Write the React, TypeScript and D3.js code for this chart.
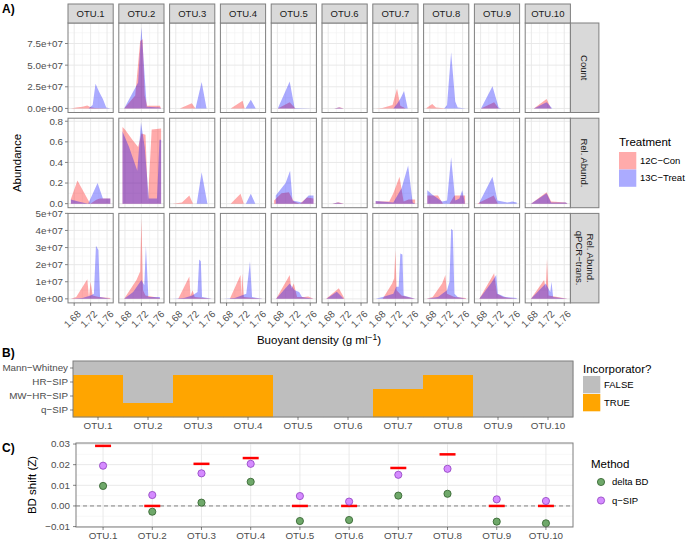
import React from "react";
import * as d3 from "d3";

// ---------------- DATA ----------------
const otus = ["OTU.1", "OTU.2", "OTU.3", "OTU.4", "OTU.5", "OTU.6", "OTU.7", "OTU.8", "OTU.9", "OTU.10"];
const treatments = ["12C\u2212Con", "13C\u2212Treat"];
const rowLabels = [["Count"], ["Rel. Abund."], ["Rel. Abund.", "qPCR\u2212trans."]];

type P = [number, number][];

const countCon: P[] = [
  [[1.672, 0], [1.685, 0.1e7], [1.7, 0.2e7], [1.712, 0.35e7], [1.72, 0.15e7], [1.73, 0.05e7], [1.768, 0]],
  [[1.678, 0], [1.705, 1.5e7], [1.717, 7.8e7], [1.723, 8.0e7], [1.728, 1.5e7], [1.734, 0.3e7], [1.765, 0.3e7], [1.768, 0]],
  [[1.672, 0], [1.69, 0], [1.719, 0.6e7], [1.728, 0], [1.768, 0]],
  [[1.672, 0], [1.69, 0], [1.719, 0.9e7], [1.724, 0], [1.768, 0]],
  [[1.672, 0], [1.681, 0], [1.71, 0.7e7], [1.724, 0], [1.768, 0]],
  [[1.672, 0], [1.695, 0], [1.708, 0.15e7], [1.718, 0], [1.768, 0]],
  [[1.672, 0], [1.688, 0.05e7], [1.713, 0.4e7], [1.724, 2.3e7], [1.732, 0.3e7], [1.745, 0], [1.768, 0]],
  [[1.672, 0.05e7], [1.686, 0.5e7], [1.695, 0.1e7], [1.72, 0], [1.768, 0]],
  [[1.672, 0], [1.681, 0], [1.713, 0.7e7], [1.724, 0], [1.768, 0]],
  [[1.672, 0], [1.686, 0], [1.717, 1.1e7], [1.728, 0], [1.768, 0]],
];
const countTreat: P[] = [
  [[1.672, 0], [1.715, 0], [1.725, 0.4e7], [1.732, 2.85e7], [1.741, 1.9e7], [1.75, 1.1e7], [1.758, 0.1e7], [1.768, 0]],
  [[1.678, 0], [1.712, 3.0e7], [1.72, 9.4e7], [1.733, 0.2e7], [1.765, 0.1e7], [1.768, 0]],
  [[1.672, 0], [1.728, 0], [1.743, 3.05e7], [1.755, 0], [1.768, 0]],
  [[1.672, 0], [1.726, 0], [1.739, 1.0e7], [1.751, 0], [1.768, 0]],
  [[1.672, 0], [1.681, 0], [1.71, 3.1e7], [1.722, 0.05e7], [1.768, 0]],
  [[1.672, 0], [1.695, 0], [1.706, 0.1e7], [1.718, 0], [1.768, 0]],
  [[1.672, 0], [1.715, 0], [1.725, 0.6e7], [1.733, 1.2e7], [1.741, 2.0e7], [1.75, 0], [1.768, 0]],
  [[1.672, 0], [1.715, 0], [1.722, 0.4e7], [1.732, 6.5e7], [1.742, 0.8e7], [1.748, 0.1e7], [1.768, 0]],
  [[1.672, 0], [1.681, 0], [1.709, 2.55e7], [1.724, 0.1e7], [1.73, 0], [1.768, 0]],
  [[1.672, 0], [1.686, 0], [1.717, 0.7e7], [1.731, 0], [1.768, 0]],
];
const relCon: P[] = [
  [[1.672, 0.046], [1.688, 0.224], [1.719, 0.0], [1.735, 0.04], [1.743, 0.05], [1.768, 0.05]],
  [[1.674, 0.745], [1.68, 0.72], [1.698, 0.62], [1.712, 0.55], [1.72, 0.68], [1.73, 0.67], [1.736, 0.03], [1.745, 0.72], [1.768, 0.73]],
  [[1.672, 0], [1.695, 0.01], [1.713, 0.08], [1.722, 0], [1.768, 0]],
  [[1.672, 0], [1.69, 0], [1.714, 0.095], [1.722, 0], [1.768, 0]],
  [[1.672, 0.03], [1.69, 0.1], [1.708, 0.11], [1.72, 0.02], [1.735, 0], [1.752, 0.06], [1.768, 0.05]],
  [[1.672, 0], [1.69, 0], [1.705, 0.013], [1.718, 0], [1.768, 0]],
  [[1.672, 0.022], [1.705, 0.02], [1.715, 0.1], [1.73, 0.26], [1.74, 0.02], [1.752, 0.04], [1.768, 0.04]],
  [[1.674, 0.08], [1.7, 0.08], [1.712, 0.0], [1.728, 0], [1.74, 0.08], [1.766, 0.08]],
  [[1.672, 0], [1.677, 0.01], [1.712, 0.08], [1.722, 0.0], [1.768, 0]],
  [[1.672, 0], [1.679, 0], [1.717, 0.11], [1.728, 0.02], [1.764, 0.01], [1.768, 0]],
];
const relTreat: P[] = [
  [[1.672, 0.04], [1.69, 0.02], [1.714, 0.0], [1.737, 0.2], [1.75, 0.05], [1.768, 0.05]],
  [[1.674, 0.7], [1.69, 0.55], [1.71, 0.32], [1.719, 0.79], [1.728, 0.55], [1.738, 0.05], [1.758, 0.05], [1.764, 0.62], [1.768, 0.62]],
  [[1.672, 0], [1.731, 0], [1.743, 0.305], [1.757, 0], [1.768, 0]],
  [[1.672, 0], [1.727, 0], [1.739, 0.095], [1.75, 0], [1.768, 0]],
  [[1.676, 0.08], [1.7, 0.2], [1.711, 0.32], [1.717, 0.03], [1.74, 0.01], [1.756, 0.08], [1.768, 0.08]],
  [[1.672, 0], [1.69, 0], [1.703, 0.012], [1.718, 0], [1.768, 0]],
  [[1.672, 0.025], [1.715, 0.01], [1.735, 0.15], [1.751, 0.37], [1.762, 0.01], [1.768, 0]],
  [[1.674, 0.13], [1.685, 0.09], [1.71, 0.02], [1.722, 0.03], [1.732, 0.45], [1.742, 0.03], [1.752, 0.05], [1.759, 0.13], [1.765, 0.02]],
  [[1.677, 0.01], [1.709, 0.26], [1.721, 0.03], [1.745, 0.01], [1.757, 0.02], [1.768, 0.01]],
  [[1.672, 0], [1.679, 0], [1.717, 0.1], [1.728, 0.01], [1.764, 0.01], [1.768, 0]],
];
const qpcrCon: P[] = [
  [[1.672, 0], [1.685, 0.1e7], [1.712, 1.15e7], [1.716, 0.1e7], [1.72, 1.0e7], [1.725, 0.2e7], [1.74, 0.1e7], [1.768, 0.05e7]],
  [[1.678, 0], [1.708, 1.1e7], [1.717, 1.6e7], [1.72, 4.75e7], [1.724, 0.5e7], [1.73, 0.2e7], [1.765, 0.05e7]],
  [[1.672, 0], [1.686, 0], [1.713, 1.3e7], [1.716, 0.2e7], [1.721, 0.5e7], [1.726, 0.1e7], [1.768, 0]],
  [[1.672, 0], [1.688, 0], [1.714, 1.4e7], [1.716, 0.2e7], [1.718, 1.5e7], [1.722, 0.1e7], [1.768, 0]],
  [[1.672, 0], [1.677, 0], [1.71, 1.4e7], [1.714, 0.6e7], [1.72, 0.9e7], [1.728, 0.1e7], [1.745, 0.1e7], [1.755, 0.13e7], [1.768, 0]],
  [[1.672, 0], [1.675, 0], [1.706, 0.62e7], [1.72, 0], [1.768, 0]],
  [[1.672, 0], [1.689, 0], [1.712, 0.9e7], [1.717, 1.2e7], [1.72, 2.85e7], [1.723, 0.5e7], [1.735, 0.2e7], [1.768, 0]],
  [[1.672, 0], [1.687, 0.1e7], [1.71, 0.9e7], [1.718, 1.4e7], [1.722, 0.3e7], [1.74, 0.1e7], [1.768, 0.05e7]],
  [[1.672, 0], [1.677, 0], [1.713, 1.5e7], [1.72, 0.3e7], [1.735, 0.1e7], [1.768, 0]],
  [[1.672, 0], [1.679, 0], [1.711, 1.1e7], [1.715, 0.6e7], [1.718, 2.35e7], [1.722, 0.2e7], [1.768, 0]],
];
const qpcrTreat: P[] = [
  [[1.672, 0], [1.7, 0.05e7], [1.72, 0.2e7], [1.728, 0.3e7], [1.733, 3.1e7], [1.739, 2.85e7], [1.743, 0.1e7], [1.768, 0]],
  [[1.678, 0], [1.7, 0.4e7], [1.72, 1.1e7], [1.727, 0.8e7], [1.731, 3.1e7], [1.737, 0.1e7], [1.765, 0.1e7]],
  [[1.672, 0], [1.7, 0.05e7], [1.72, 0.2e7], [1.733, 0.4e7], [1.737, 2.3e7], [1.741, 2.2e7], [1.744, 0.1e7], [1.768, 0]],
  [[1.672, 0], [1.7, 0.05e7], [1.728, 0.3e7], [1.737, 2.2e7], [1.742, 0.1e7], [1.768, 0]],
  [[1.672, 0], [1.677, 0], [1.71, 0.9e7], [1.722, 0.5e7], [1.733, 0.4e7], [1.74, 0.1e7], [1.768, 0]],
  [[1.672, 0], [1.676, 0], [1.701, 0.42e7], [1.718, 0], [1.768, 0]],
  [[1.672, 0], [1.689, 0.1e7], [1.715, 0.3e7], [1.722, 0.7e7], [1.728, 0.7e7], [1.732, 2.65e7], [1.737, 2.6e7], [1.74, 0.2e7], [1.768, 0]],
  [[1.672, 0], [1.7, 0.1e7], [1.722, 0.5e7], [1.728, 1.0e7], [1.732, 4.1e7], [1.736, 4.0e7], [1.74, 0.3e7], [1.748, 0.1e7], [1.768, 0]],
  [[1.672, 0], [1.677, 0], [1.708, 1.0e7], [1.718, 1.4e7], [1.722, 0.3e7], [1.74, 0.1e7], [1.768, 0.05e7]],
  [[1.672, 0], [1.679, 0], [1.715, 0.9e7], [1.726, 0.4e7], [1.729, 1.0e7], [1.733, 0.1e7], [1.768, 0]],
];

const xTicks = [1.68, 1.72, 1.76];
const xMinor = [1.7, 1.74];
const countTicks = [0, 2.5e7, 5e7, 7.5e7];
const countTickLabels = ["0.0e+00", "2.5e+07", "5.0e+07", "7.5e+07"];
const relTicks = [0, 0.2, 0.4, 0.6, 0.8];
const relTickLabels = ["0.0", "0.2", "0.4", "0.6", "0.8"];
const qpcrTicks = [0, 1e7, 2e7, 3e7, 4e7, 5e7];
const qpcrTickLabels = ["0e+00", "1e+07", "2e+07", "3e+07", "4e+07", "5e+07"];

// Panel B
const methods = ["Mann\u2212Whitney", "HR\u2212SIP", "MW\u2212HR\u2212SIP", "q\u2212SIP"];
const incMannWhitney = [false, false, false, false, false, false, false, false, false, false];
const incHrSip = [true, false, true, true, false, false, false, true, false, false];
const incMwHrSip = [true, false, true, true, false, false, true, true, false, false];
const incQSip = [true, true, true, true, false, false, true, true, false, false];

// Panel C
const deltaBD = [0.0097, -0.0028, 0.0016, 0.0117, -0.0073, -0.0068, 0.005, 0.0059, -0.0076, -0.0084];
const qSipShift = [0.0195, 0.0053, 0.0158, 0.0204, 0.0048, 0.0021, 0.0151, 0.018, 0.0032, 0.0024];
const hrSipShift = [0.0291, 0, 0.0204, 0.0232, 0, 0, 0.0184, 0.025, 0, 0];
const cTicks = [-0.01, 0, 0.01, 0.02, 0.03];
const cTickLabels = ["\u22120.01", "0.00", "0.01", "0.02", "0.03"];

// ---------------- STYLE ----------------
const FONT = "'Liberation Sans', Arial, Helvetica, sans-serif";
const RED = "#FF0000";
const BLUE = "#0000FF";
const AREA_OP = 0.33;
const BORDER = "#7F7F7F";
const GRID = "#E6E6E6";
const GRID_MINOR = "#F2F2F2";
const TICK_TXT = "#4D4D4D";
const STRIP = "#D9D9D9";
const ORANGE = "#FFA500";
const GREY = "#BEBEBE";
const TICK_FS = 9.8;
const TITLE_FS = 11.5;
const LEG_FS = 9.5;

const A = { left: 68, step: 50.8, pw: 45.2, top: 23, rowStep: 95.2, ph: 89.5 };

export default function App() {
  const x = d3.scaleLinear().domain([1.665, 1.775]);
  const rows = [
    { con: countCon, treat: countTreat, max: 9.4e7, ticks: countTicks, labels: countTickLabels },
    { con: relCon, treat: relTreat, max: 0.79, ticks: relTicks, labels: relTickLabels },
    { con: qpcrCon, treat: qpcrTreat, max: 4.76e7, ticks: qpcrTicks, labels: qpcrTickLabels },
  ];

  const panels: React.ReactNode[] = [];
  const defs: React.ReactNode[] = [];

  rows.forEach((row, ri) => {
    const top = A.top + ri * A.rowStep;
    const bottom = top + A.ph;
    const pad = row.max * 0.05;
    const y = d3.scaleLinear().domain([-pad, row.max + pad]).range([bottom, top]);
    const minorTicks = row.ticks.slice(0, -1).map((t, i) => (t + row.ticks[i + 1]) / 2);
    const lastStep = row.ticks[1] - row.ticks[0];
    minorTicks.push(row.ticks[row.ticks.length - 1] + lastStep / 2);

    panels.push(
      <g key={`yax${ri}`}>
        {row.ticks.map((t, i) => {
          const yy = y(t);
          if (yy < top - 0.5) return null;
          return (
            <g key={i}>
              <line x1={A.left - 3} x2={A.left} y1={yy} y2={yy} stroke="#333" strokeWidth={0.6} />
              <text x={A.left - 5} y={yy} dy="0.35em" textAnchor="end" fontSize={TICK_FS} fill={TICK_TXT} fontFamily={FONT}>
                {row.labels[i]}
              </text>
            </g>
          );
        })}
      </g>
    );

    otus.forEach((otu, ci) => {
      const left = A.left + ci * A.step;
      const right = left + A.pw;
      x.range([left, right]);
      const area = d3
        .area<[number, number]>()
        .x((d) => x(d[0]))
        .y0(y(0))
        .y1((d) => y(d[1]));
      const cid = `clip-${ri}-${ci}`;
      defs.push(
        <clipPath id={cid} key={cid}>
          <rect x={left} y={top} width={A.pw} height={A.ph} />
        </clipPath>
      );
      panels.push(
        <g key={`p${ri}-${ci}`}>
          <rect x={left} y={top} width={A.pw} height={A.ph} fill="#fff" />
          {xMinor.map((t) => (
            <line key={`xm${t}`} x1={x(t)} x2={x(t)} y1={top} y2={bottom} stroke={GRID_MINOR} strokeWidth={0.6} />
          ))}
          {minorTicks.filter((t) => y(t) > top).map((t) => (
            <line key={`ym${t}`} x1={left} x2={right} y1={y(t)} y2={y(t)} stroke={GRID_MINOR} strokeWidth={0.6} />
          ))}
          {xTicks.map((t) => (
            <line key={`xg${t}`} x1={x(t)} x2={x(t)} y1={top} y2={bottom} stroke={GRID} strokeWidth={0.9} />
          ))}
          {row.ticks.filter((t) => y(t) >= top).map((t) => (
            <line key={`yg${t}`} x1={left} x2={right} y1={y(t)} y2={y(t)} stroke={GRID} strokeWidth={0.9} />
          ))}
          <g clipPath={`url(#${cid})`}>
            <path d={area(row.con[ci]) || ""} fill={RED} fillOpacity={AREA_OP} />
            <path d={area(row.treat[ci]) || ""} fill={BLUE} fillOpacity={AREA_OP} />
          </g>
          <rect x={left} y={top} width={A.pw} height={A.ph} fill="none" stroke={BORDER} strokeWidth={1} />
        </g>
      );

      if (ri === 0) {
        panels.push(
          <g key={`strip${ci}`}>
            <rect x={left} y={top - 19} width={A.pw} height={19} fill={STRIP} stroke={BORDER} strokeWidth={1} />
            <text x={(left + right) / 2} y={top - 9.5} dy="0.35em" textAnchor="middle" fontSize={9.5} fill="#1A1A1A" fontFamily={FONT}>
              {otu}
            </text>
          </g>
        );
      }
      if (ri === 2) {
        panels.push(
          <g key={`xax${ci}`}>
            {xTicks.map((t, i) => (
              <g key={i}>
                <line x1={x(t)} x2={x(t)} y1={bottom} y2={bottom + 3} stroke="#333" strokeWidth={0.6} />
                <text
                  transform={`translate(${x(t) + 2.5},${bottom + 7}) rotate(-45)`}
                  textAnchor="end"
                  dy="0.7em"
                  fontSize={TICK_FS}
                  fill={TICK_TXT}
                  fontFamily={FONT}
                >
                  {t.toFixed(2)}
                </text>
              </g>
            ))}
          </g>
        );
      }
    });

    const sx = A.left + 9 * A.step + A.pw;
    const lines = rowLabels[ri];
    panels.push(
      <g key={`rs${ri}`}>
        <rect x={sx} y={top} width={28.5} height={A.ph} fill={STRIP} stroke={BORDER} strokeWidth={1} />
        <g transform={`translate(${sx + 14.25},${top + A.ph / 2}) rotate(90)`}>
          {lines.map((l, i) => (
            <text
              key={i}
              x={0}
              y={(i - (lines.length - 1) / 2) * 11}
              dy="0.35em"
              textAnchor="middle"
              fontSize={9.5}
              fill="#1A1A1A"
              fontFamily={FONT}
            >
              {l}
            </text>
          ))}
        </g>
      </g>
    );
  });

  // ---------------- Panel B ----------------
  const B = { left: 73, right: 573, top: 361, bottom: 417 };
  const bx = d3.scaleBand().domain(otus).range([B.left, B.right]);
  const by = d3.scaleBand().domain(methods).range([B.top, B.bottom]);
  const incTable = [incMannWhitney, incHrSip, incMwHrSip, incQSip];

  // ---------------- Panel C ----------------
  const C = { left: 76, right: 573, top: 443, bottom: 527 };
  const cx = d3.scalePoint().domain(otus).range([C.left, C.right]).padding(0.55);
  const cy = d3.scaleLinear().domain([-0.0102, 0.0305]).range([C.bottom, C.top]);
  const cMinor = [-0.005, 0.005, 0.015, 0.025];

  return (
    <svg
      width={687}
      height={542}
      style={{ position: "absolute", left: 0, top: 0, background: "#fff" }}
      fontFamily={FONT}
    >
      <defs>{defs}</defs>
      <rect x={0} y={0} width={687} height={542} fill="#fff" />

      <text x={2} y={13} fontSize={12} fontWeight="bold" fill="#000">A)</text>
      <text x={2} y={357} fontSize={12} fontWeight="bold" fill="#000">B)</text>
      <text x={2} y={452} fontSize={12} fontWeight="bold" fill="#000">C)</text>

      {panels}

      <text transform={`translate(21,163) rotate(-90)`} textAnchor="middle" fontSize={TITLE_FS} fill="#000">
        Abundance
      </text>
      <text x={319} y={344} textAnchor="middle" fontSize={TITLE_FS} fill="#000">
        Buoyant density (g ml
        <tspan dy={-4} fontSize={8.5}>{"\u22121"}</tspan>
        <tspan dy={4}>)</tspan>
      </text>

      <text x={619} y={146} fontSize={TITLE_FS} fill="#000">Treatment</text>
      {treatments.map((t, i) => (
        <g key={t}>
          <rect x={619} y={152 + i * 17.5} width={17.3} height={17.3} fill={i === 0 ? RED : BLUE} fillOpacity={AREA_OP} />
          <text x={640} y={160.5 + i * 17.5} dy="0.35em" fontSize={LEG_FS} fill="#000">{t}</text>
        </g>
      ))}

      {methods.map((m, mi) =>
        otus.map((o, oi) => (
          <rect
            key={`${m}-${o}`}
            x={bx(o)!}
            y={by(m)!}
            width={bx.bandwidth() + 0.3}
            height={by.bandwidth() + 0.3}
            fill={incTable[mi][oi] ? ORANGE : GREY}
          />
        ))
      )}
      <rect x={B.left} y={B.top} width={B.right - B.left} height={B.bottom - B.top} fill="none" stroke={BORDER} strokeWidth={1} />
      {methods.map((m) => {
        const yy = by(m)! + by.bandwidth() / 2;
        return (
          <g key={m}>
            <line x1={B.left - 3} x2={B.left} y1={yy} y2={yy} stroke="#333" strokeWidth={0.6} />
            <text x={B.left - 5} y={yy} dy="0.35em" textAnchor="end" fontSize={TICK_FS} fill={TICK_TXT}>{m}</text>
          </g>
        );
      })}
      {otus.map((o) => {
        const xx = bx(o)! + bx.bandwidth() / 2;
        return (
          <g key={o}>
            <line x1={xx} x2={xx} y1={B.bottom} y2={B.bottom + 3} stroke="#333" strokeWidth={0.6} />
            <text x={xx} y={B.bottom + 12} textAnchor="middle" fontSize={TICK_FS} fill={TICK_TXT}>{o}</text>
          </g>
        );
      })}
      <text x={583} y={373} fontSize={TITLE_FS} fill="#000">Incorporator?</text>
      {["FALSE", "TRUE"].map((t, i) => (
        <g key={t}>
          <rect x={583} y={376 + i * 18} width={17.3} height={17.3} fill={i === 0 ? GREY : ORANGE} />
          <text x={604} y={384.5 + i * 18} dy="0.35em" fontSize={LEG_FS} fill="#000">{t}</text>
        </g>
      ))}

      <rect x={C.left} y={C.top} width={C.right - C.left} height={C.bottom - C.top} fill="#fff" />
      {cMinor.map((t) => (
        <line key={`cm${t}`} x1={C.left} x2={C.right} y1={cy(t)} y2={cy(t)} stroke={GRID_MINOR} strokeWidth={0.6} />
      ))}
      {cTicks.map((t) => (
        <line key={`cg${t}`} x1={C.left} x2={C.right} y1={cy(t)} y2={cy(t)} stroke={GRID} strokeWidth={0.9} />
      ))}
      {otus.map((o) => (
        <line key={`cv${o}`} x1={cx(o)!} x2={cx(o)!} y1={C.top} y2={C.bottom} stroke={GRID} strokeWidth={0.9} />
      ))}
      <line x1={C.left} x2={C.right} y1={cy(0)} y2={cy(0)} stroke="#666" strokeWidth={0.8} strokeDasharray="4,3" />
      {otus.map((o, i) => (
        <line
          key={`hr${o}`}
          x1={cx(o)! - 8}
          x2={cx(o)! + 8}
          y1={cy(hrSipShift[i])}
          y2={cy(hrSipShift[i])}
          stroke={RED}
          strokeWidth={2.5}
        />
      ))}
      {otus.map((o, i) => (
        <circle key={`db${o}`} cx={cx(o)!} cy={cy(deltaBD[i])} r={3.6} fill="#6FA86A" stroke="#2E5E2A" strokeWidth={0.8} />
      ))}
      {otus.map((o, i) => (
        <circle key={`qs${o}`} cx={cx(o)!} cy={cy(qSipShift[i])} r={3.6} fill="#D58BFF" stroke="#8E3FBF" strokeWidth={0.8} />
      ))}
      <rect x={C.left} y={C.top} width={C.right - C.left} height={C.bottom - C.top} fill="none" stroke={BORDER} strokeWidth={1} />
      {cTicks.map((t, i) => (
        <g key={`ct${t}`}>
          <line x1={C.left - 3} x2={C.left} y1={cy(t)} y2={cy(t)} stroke="#333" strokeWidth={0.6} />
          <text x={C.left - 6} y={cy(t)} dy="0.35em" textAnchor="end" fontSize={TICK_FS} fill={TICK_TXT}>{cTickLabels[i]}</text>
        </g>
      ))}
      {otus.map((o) => (
        <g key={`cx${o}`}>
          <line x1={cx(o)!} x2={cx(o)!} y1={C.bottom} y2={C.bottom + 3} stroke="#333" strokeWidth={0.6} />
          <text x={cx(o)!} y={C.bottom + 12} textAnchor="middle" fontSize={TICK_FS} fill={TICK_TXT}>{o}</text>
        </g>
      ))}
      <text transform={`translate(36,485) rotate(-90)`} textAnchor="middle" fontSize={TITLE_FS} fill="#000">
        BD shift (Z)
      </text>
      <text x={591} y={468} fontSize={TITLE_FS} fill="#000">Method</text>
      {["delta BD", "q\u2212SIP"].map((t, i) => (
        <g key={t}>
          <circle
            cx={601}
            cy={482 + i * 18.5}
            r={3.6}
            fill={i === 0 ? "#6FA86A" : "#D58BFF"}
            stroke={i === 0 ? "#2E5E2A" : "#8E3FBF"}
            strokeWidth={0.8}
          />
          <text x={612} y={482 + i * 18.5} dy="0.35em" fontSize={LEG_FS} fill="#000">{t}</text>
        </g>
      ))}
    </svg>
  );
}
